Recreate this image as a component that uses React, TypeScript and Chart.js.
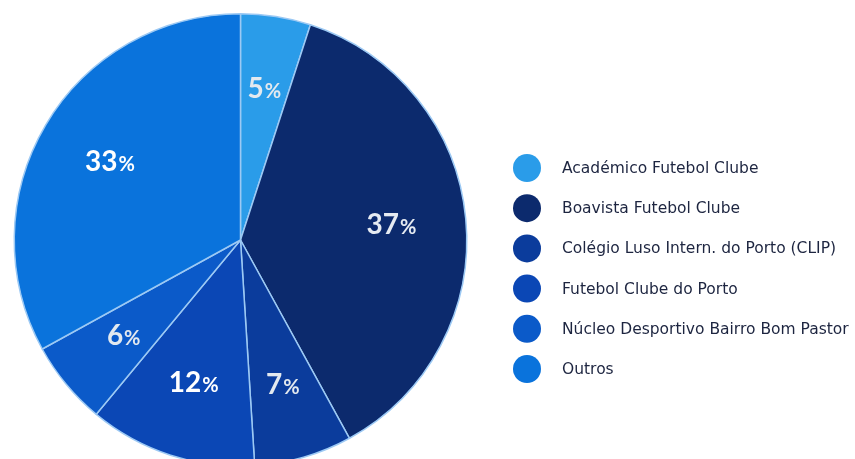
import React, { useEffect, useRef } from "react";
import { Chart, registerables } from "chart.js";

Chart.register(...registerables);

const categories = [
  "Académico Futebol Clube",
  "Boavista Futebol Clube",
  "Colégio Luso Intern. do Porto (CLIP)",
  "Futebol Clube do Porto",
  "Núcleo Desportivo Bairro Bom Pastor",
  "Outros",
];
const shares = [5, 37, 7, 12, 6, 33];
const sliceColors = ["#2a9ce9", "#0c2a6d", "#0b3c9c", "#0b47b5", "#0b5ac9", "#0a73dc"];
const labelColors = ["#e3e9ef", "#e6ebf2", "#e3e9ef", "#ffffff", "#e3e9ef", "#ffffff"];

const FONT = "Lato, 'Open Sans', sans-serif";
const LEGEND_FONT = "'DejaVu Sans', sans-serif";

const pctLabelPlugin = {
  id: "pctLabels",
  afterDatasetsDraw(chart: any) {
    const ctx = chart.ctx;
    const meta = chart.getDatasetMeta(0);
    const data = chart.data.datasets[0].data as number[];
    const total = data.reduce((a, b) => a + b, 0);
    meta.data.forEach((arc: any, i: number) => {
      const { x, y, startAngle, endAngle, outerRadius } = arc.getProps(
        ["x", "y", "startAngle", "endAngle", "outerRadius"],
        true
      );
      const mid = (startAngle + endAngle) / 2;
      const r = outerRadius * 0.67;
      const px = x + Math.cos(mid) * r;
      const py = y + Math.sin(mid) * r;
      const num = String(Math.round((data[i] / total) * 100));
      ctx.save();
      ctx.fillStyle = labelColors[i];
      ctx.textBaseline = "alphabetic";
      ctx.textAlign = "left";
      ctx.font = `bold 28px ${FONT}`;
      const wn = ctx.measureText(num).width;
      ctx.font = `bold 20px ${FONT}`;
      const wp = ctx.measureText("%").width;
      const sx = px - (wn + wp + 1) / 2;
      const base = py + 8;
      ctx.font = `bold 28px ${FONT}`;
      ctx.fillText(num, sx, base);
      ctx.font = `bold 20px ${FONT}`;
      ctx.fillText("%", sx + wn + 1, base);
      ctx.restore();
    });
  },
};

const legendPlugin = {
  id: "sideLegend",
  afterDraw(chart: any) {
    const ctx = chart.ctx;
    const labels = chart.data.labels as string[];
    const colors = chart.data.datasets[0].backgroundColor as string[];
    labels.forEach((lab, i) => {
      const cy = 168 + i * 40.2;
      ctx.save();
      ctx.beginPath();
      ctx.arc(527, cy, 14, 0, Math.PI * 2);
      ctx.fillStyle = colors[i];
      ctx.fill();
      ctx.fillStyle = "#1d2540";
      ctx.font = `15.5px ${LEGEND_FONT}`;
      ctx.textBaseline = "middle";
      ctx.textAlign = "left";
      ctx.fillText(lab, 562, cy + 1);
      ctx.restore();
    });
  },
};

export default function App() {
  const ref = useRef<HTMLCanvasElement | null>(null);
  useEffect(() => {
    if (!ref.current) return;
    const chart = new Chart(ref.current, {
      type: "pie",
      data: {
        labels: categories,
        datasets: [
          {
            data: shares,
            backgroundColor: sliceColors,
            borderColor: "#9cc9f4",
            borderWidth: 1.5,
          },
        ],
      },
      options: {
        animation: false,
        responsive: false,
        devicePixelRatio: 1,
        layout: { padding: { left: 13, top: 13, right: 387, bottom: 13 } },
        plugins: {
          legend: { display: false },
          tooltip: { enabled: false },
        },
      },
      plugins: [pctLabelPlugin, legendPlugin],
    });
    return () => chart.destroy();
  }, []);
  return (
    <div
      style={{
        position: "fixed",
        left: 0,
        top: 0,
        width: 855,
        height: 459,
        overflow: "hidden",
        background: "#ffffff",
      }}
    >
      <canvas ref={ref} width={855} height={480} style={{ width: 855, height: 480, display: "block" }} />
    </div>
  );
}
